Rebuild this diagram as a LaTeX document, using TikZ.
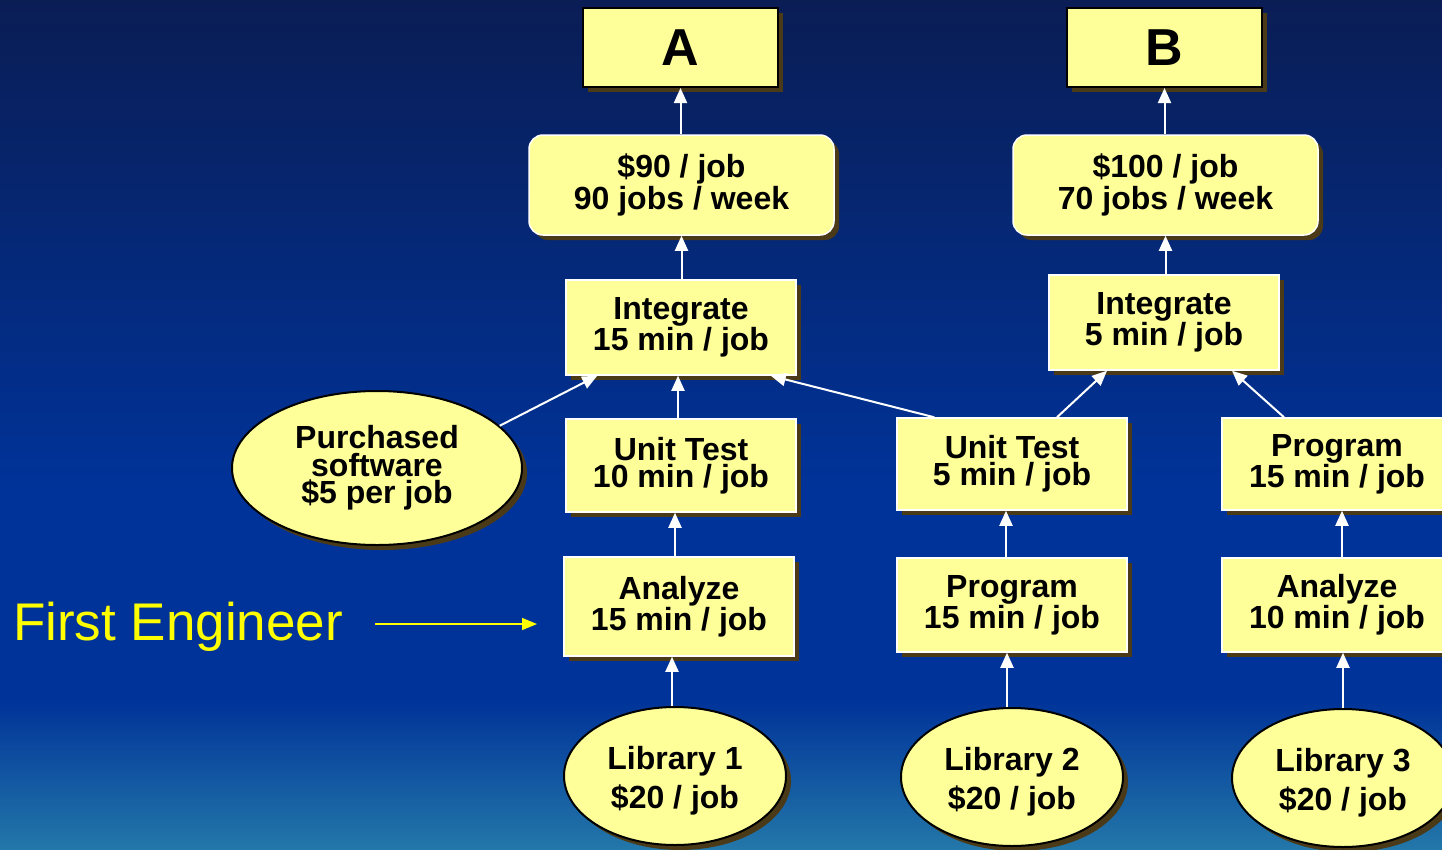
\documentclass[tikz,border=0pt]{standalone}
\usepackage{fontspec}
\setmainfont{Liberation Sans}
\usetikzlibrary{shapes.geometric,shadows,arrows.meta}
\definecolor{bgtop}{HTML}{0A1D55}
\definecolor{bgmid}{HTML}{003399}
\definecolor{bgbot}{HTML}{2377A9}
\definecolor{boxfill}{HTML}{FFFF99}
\definecolor{shadowc}{HTML}{4A3A18}
\definecolor{fey}{HTML}{FFFF00}
\tikzset{
  shad/.style={general shadow={shadow xshift=5pt,shadow yshift=-5pt,fill=shadowc,draw=none}},
  wbox/.style={shad,rectangle,draw=white,line width=1.5pt,fill=boxfill,inner sep=0pt,align=center,
     font=\fontsize{32}{27}\selectfont\bfseries},
  topbox/.style={shad,rectangle,draw=black,line width=2pt,fill=boxfill,inner sep=0pt,
     font=\fontsize{52}{52}\selectfont\bfseries,minimum width=195pt,minimum height=79pt},
  valbox/.style={shad,rectangle,rounded corners=14pt,draw=white,line width=1.5pt,fill=boxfill,inner sep=0pt,align=center,
     font=\fontsize{32}{32}\selectfont\bfseries,minimum width=305pt,minimum height=100pt},
  lib/.style={shad,ellipse,draw=black,line width=2pt,fill=boxfill,inner sep=0pt,align=center,
     font=\fontsize{32}{39}\selectfont\bfseries,minimum width=222pt,minimum height=138pt},
  arr/.style={draw=white,line width=2pt,-{Triangle[length=15pt,width=13pt]}},
  yarr/.style={draw=fey,line width=1.5pt,-{Triangle[length=15pt,width=12pt]}},
}
\begin{document}
\begin{tikzpicture}[x=1pt,y=-1pt]
\useasboundingbox (0,0) rectangle (1442,849);
% background
\fill[top color=bgtop,bottom color=bgmid] (0,0) rectangle (1442,491);
\fill[bgmid] (0,490) rectangle (1442,701);
\fill[top color=bgmid,bottom color=bgbot] (0,700) rectangle (1442,849);

% top boxes
\node[topbox] (A) at (680.5,47.5) {A};
\node[topbox] (B) at (1164.5,47.5) {B};
\node[valbox] (VA) at (681.5,185) {\$90 / job\\90 jobs / week};
\node[valbox] (VB) at (1165.5,185) {\$100 / job\\70 jobs / week};

% process boxes
\node[wbox,minimum width=230pt,minimum height=95pt] (IntA) at (681,327.5) {Integrate\\15 min / job};
\node[wbox,minimum width=230pt,minimum height=95pt] (IntB) at (1164,322.5) {Integrate\\5 min / job};
\node[wbox,minimum width=230pt,minimum height=93pt] (UTA) at (681,465.5) {Unit Test\\10 min / job};
\node[wbox,minimum width=230pt,minimum height=92pt] (UTB) at (1012,464) {Unit Test\\5 min / job};
\node[wbox,minimum width=230pt,minimum height=92pt] (PR) at (1337,464) {Program\\15 min / job};
\node[wbox,minimum width=230pt,minimum height=99pt] (AnA) at (679,606.5) {Analyze\\15 min / job};
\node[wbox,minimum width=230pt,minimum height=94pt] (PM) at (1012,605) {Program\\15 min / job};
\node[wbox,minimum width=230pt,minimum height=94pt] (AnR) at (1337,605) {Analyze\\10 min / job};

% ellipses
\node[lib] (L1) at (675,776) {\rule{0pt}{33pt}Library 1\\\$20 / job};
\node[lib] (L2) at (1012,777) {\rule{0pt}{33pt}Library 2\\\$20 / job};
\node[lib] (L3) at (1343,778) {\rule{0pt}{33pt}Library 3\\\$20 / job};
\node[lib,minimum width=290pt,minimum height=154pt,font=\fontsize{32}{27.5}\selectfont\bfseries] (PS) at (377,468) {Purchased\\software\\\$5 per job};

% first engineer
\node[anchor=base west,inner sep=0pt,text=fey,font=\fontsize{53}{53}\selectfont] (FE) at (13,640) {First Engineer};
\coordinate (fe1) at (375,624);
\coordinate (fe2) at (537,624);
\draw[yarr] (fe1) -- (fe2);

% arrows
\draw[arr] (VA.north -| A.south) -- (A.south);
\draw[arr] (VB.north -| B.south) -- (B.south);
\draw[arr] (IntA.north -| VA.south) -- (VA.south);
\draw[arr] (IntB.north -| VB.south) -- (VB.south);
\draw[arr] ([xshift=-3pt]UTA.north) -- ([xshift=-3pt]IntA.south);
\draw[arr] ([xshift=-4pt]AnA.north) -- ([xshift=-4pt]AnA.north |- UTA.south);
\draw[arr] ([xshift=-3pt]L1.north) -- ([xshift=-3pt]L1.north |- AnA.south);
\draw[arr] ([xshift=-6pt]PM.north) -- ([xshift=-6pt]UTB.south);
\draw[arr] ([xshift=-5pt]L2.north) -- ([xshift=-5pt]L2.north |- PM.south);
\draw[arr] ([xshift=5pt]AnR.north) -- ([xshift=5pt]PR.south);
\draw[arr] (L3.north) -- (L3.north |- AnR.south);
\draw[arr] (PS.19) -- ([xshift=32pt]IntA.south west);
\draw[arr] ([xshift=38pt]UTB.north west) -- ([xshift=-26pt]IntA.south east);
\draw[arr] ([xshift=45pt]UTB.north) -- ([xshift=-57pt]IntB.south);
\draw[arr] ([xshift=-53pt]PR.north) -- ([xshift=68pt]IntB.south);
\end{tikzpicture}
\end{document}
